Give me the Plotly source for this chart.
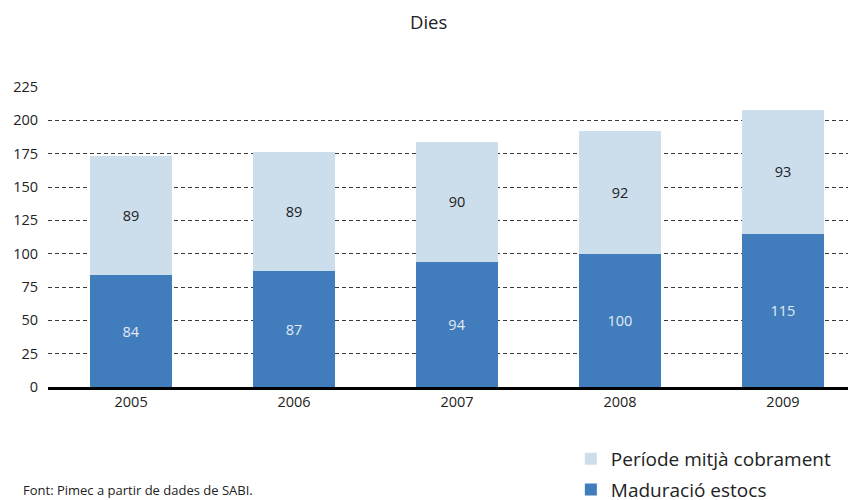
import plotly.graph_objects as go

years = ["2005", "2006", "2007", "2008", "2009"]
maduracio_estocs = [84, 87, 94, 100, 115]
periode_cobrament = [89, 89, 90, 92, 93]
y_ticks = [0, 25, 50, 75, 100, 125, 150, 175, 200, 225]

DARK = "#417DBC"
LIGHT = "#CCDDEC"
FONT = "Open Sans, Noto Sans, sans-serif"

fig = go.Figure()
fig.add_trace(go.Bar(
    x=years, y=maduracio_estocs, name="Maduració estocs", legend="legend2",
    marker=dict(color=DARK, line=dict(width=0)), width=0.5,
    text=maduracio_estocs, textposition="inside", insidetextanchor="middle",
    textfont=dict(color="#E3EAF3", size=14.5, family=FONT),
))
fig.add_trace(go.Bar(
    x=years, y=periode_cobrament, name="Període mitjà cobrament", legend="legend",
    marker=dict(color=LIGHT, line=dict(width=0)), width=0.5,
    text=periode_cobrament, textposition="inside", insidetextanchor="middle",
    textfont=dict(color="#222222", size=14.5, family=FONT),
))

legend_common = dict(
    xanchor="left", yanchor="top", font=dict(size=19, color="#222222"),
    bgcolor="rgba(0,0,0,0)", itemwidth=30,
)

# page body has an 8px margin, so the figure is made 8px smaller and shifted
fig.update_layout(
    barmode="stack",
    width=848, height=492,
    margin=dict(l=40, r=3, t=79, b=113, autoexpand=False),
    paper_bgcolor="white", plot_bgcolor="white",
    font=dict(family=FONT, color="#222222", size=14),
    showlegend=True,
    legend=dict(x=0.6495, y=-0.176, **legend_common),
    legend2=dict(x=0.6495, y=-0.279, **legend_common),
    uniformtext=dict(mode="show", minsize=10),
    xaxis=dict(
        type="category", range=[-0.51, 4.43],
        showgrid=False, showline=True, linecolor="black", linewidth=3,
        ticks="", tickfont=dict(size=14.5, color="#222222"),
        zeroline=False,
    ),
    yaxis=dict(
        range=[0, 225], tickvals=y_ticks, ticktext=[str(v) for v in y_ticks],
        showgrid=True, gridcolor="#3a3a3a", gridwidth=1, griddash="4px,3px",
        zeroline=False, showline=False, ticks="",
        tickfont=dict(size=14.5, color="#222222"), ticklabelstandoff=9,
    ),
    annotations=[
        dict(text="Dies", x=(428 - 48) / 805, y=1 + (87 - 22) / 300, xref="paper", yref="paper",
             yanchor="middle", showarrow=False, font=dict(size=18.5, color="#222222")),
        dict(text="Font: Pimec a partir de dades de SABI.", xref="paper", yref="paper",
             x=(21 - 48) / 805, y=-(490 - 387) / 300, xanchor="left", yanchor="middle",
             showarrow=False, font=dict(size=13, color="#222222")),
    ],
)

fig.write_html("out.html")
